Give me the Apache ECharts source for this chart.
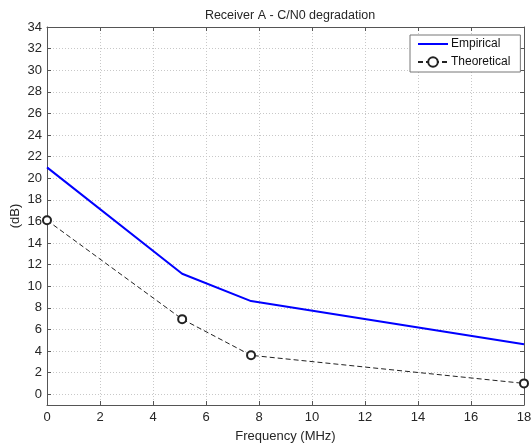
<!DOCTYPE html>
<html>
<head>
<meta charset="utf-8">
<title>Receiver A - C/N0 degradation</title>
<script src="https://cdn.jsdelivr.net/npm/echarts@6/dist/echarts.min.js"></script>
<style>
    html, body {margin:0; padding:0; background:#fff;}
    #chart {width:532px; height:443px;}
</style>
</head>
<body>
<div id="chart"></div>
<script>
var freq = [0, 5.1, 7.7, 18];
var empirical = [21, 11.15, 8.62, 4.62];
var theoretical = [16.1, 6.95, 3.6, 1.0];
var seriesNames = ['Empirical', 'Theoretical'];

function pairs(xs, ys){
    var out = [];
    for(var i=0; i<xs.length; i++){out.push([xs[i], ys[i]]);}
    return out;
}

function drawChart(){
    var myChart = echarts.init(document.getElementById('chart'));
    var family = 'Liberation Sans, Arial, sans-serif';
    var tickFont = {fontFamily: family, fontSize: 13, color: '#262626'};
    var nameFont = {fontFamily: family, fontSize: 13, color: '#262626'};
    var axisLine = {show: true, onZero: false, lineStyle: {color: '#555', width: 1}};
    var axisTick = {show: true, inside: true, length: 4, lineStyle: {color: '#555'}};
    var splitLine = {show: true, lineStyle: {color: '#c8c8c8', type: [1, 2]}};

    var option = {
        animation: false,
        backgroundColor: '#fff',
        title: {
            text: 'Receiver A - C/N0 degradation',
            left: 285, top: 4, textAlign: 'center',
            textStyle: {fontFamily: family, fontSize: 12.5, fontWeight: 'normal', color: '#262626'}
        },
        legend: {
            data: [
                {name: seriesNames[0], itemStyle: {opacity: 0}},
                {name: seriesNames[1]}
            ],
            orient: 'vertical',
            left: 410, top: 35,
            padding: [3, 10, 4, 7],
            itemWidth: 30, itemHeight: 12, itemGap: 6,
            borderColor: '#777', borderWidth: 1,
            backgroundColor: '#fff',
            textStyle: {fontFamily: family, fontSize: 12, color: '#111', padding: [1, 0, 0, -2]}
        },
        grid: {show: false, left: 47, right: 8, top: 27, bottom: 38, containLabel: false, outerBoundsMode: 'none'},
        xAxis: [{
            type: 'value', min: 0, max: 18, interval: 2,
            name: 'Frequency (MHz)', nameLocation: 'middle', nameGap: 25,
            nameTextStyle: nameFont,
            axisLine: axisLine, axisTick: axisTick,
            axisLabel: {show: true, margin: 6, textStyle: tickFont},
            splitLine: splitLine
        }, {
            type: 'value', min: 0, max: 18, interval: 2, position: 'top',
            axisLine: axisLine, axisTick: axisTick,
            axisLabel: {show: false}, splitLine: {show: false}
        }],
        yAxis: [{
            type: 'value', min: -1, max: 34, splitNumber: 17,
            name: '(dB)', nameLocation: 'middle', nameGap: 25, nameRotate: 90,
            nameMoveOverlap: false,
            nameTextStyle: nameFont,
            axisLine: axisLine, axisTick: axisTick,
            axisLabel: {show: true, margin: 5, showMinLabel: false, textStyle: tickFont},
            splitLine: splitLine
        }, {
            type: 'value', min: -1, max: 34, splitNumber: 17, position: 'right',
            axisLine: axisLine, axisTick: axisTick,
            axisLabel: {show: false}, splitLine: {show: false}
        }],
        series: [{
            name: seriesNames[0],
            type: 'line',
            data: pairs(freq, empirical),
            symbol: 'none',
            lineStyle: {color: '#0000ff', width: 2},
            itemStyle: {color: '#0000ff'},
            z: 3
        }, {
            name: seriesNames[1],
            type: 'line',
            data: pairs(freq, theoretical),
            symbol: 'emptyCircle', symbolSize: 8,
            lineStyle: {color: '#222', width: 1, type: [5, 3]},
            itemStyle: {color: '#222', borderWidth: 1},
            z: 2
        }]
    };
    myChart.setOption(option, true);
}

drawChart();
</script>
</body>
</html>
